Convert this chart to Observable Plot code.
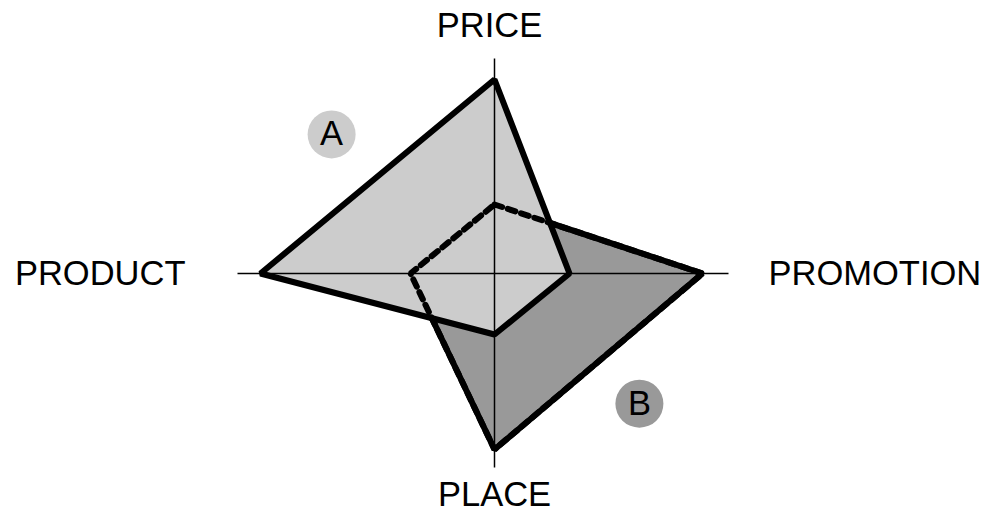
<!DOCTYPE html>
<html>
<head>
<meta charset="utf-8">
<script src="https://cdn.jsdelivr.net/npm/d3@7"></script>
<script src="https://cdn.jsdelivr.net/npm/@observablehq/plot@0.6"></script>
<style>
  html, body { margin: 0; padding: 0; background: #fff; }
  #chart svg { display: block; }
</style>
</head>
<body>
<div id="chart"></div>
<script>
// Radar axes (clockwise from top)
const categories = ["PRICE", "PROMOTION", "PLACE", "PRODUCT"];
const axisMax = [10.75, 11.7, 9.7, 12.85];
// Series values per axis
const seriesA = [9.7, 3.75, 3.05, 11.7];
const seriesB = [3.45, 10.4, 8.8, 4.2];
// Series badges: name, angle position (axis index, fractional) and radius
const seriesNames = ["A", "B"];
const badgeAngle = [3.45, 1.466];
const badgeRadius = [10.71, 9.74];

const toXY = (i, v) => {
  const a = i * Math.PI / 2;
  return {x: v * Math.sin(a), y: v * Math.cos(a)};
};
const poly = (vals) => vals.map((v, i) => ({cat: categories[i], ...toXY(i, v)}));
const polyA = poly(seriesA);
const polyB = poly(seriesB);
const axes = axisMax.map((v, i) => ({cat: categories[i], ...toXY(i, v)}));
const badges = seriesNames.map((n, k) => ({name: n, ...toXY(badgeAngle[k], badgeRadius[k])}));

const labelStyle = {
  PRICE: {dx: -5, dy: -33, anchor: "middle"},
  PROMOTION: {dx: 40, dy: 0, anchor: "start"},
  PLACE: {dx: 0, dy: 27, anchor: "middle"},
  PRODUCT: {dx: -52, dy: 0, anchor: "end"}
};
const font = "'Liberation Sans', Arial, Helvetica, sans-serif";
const unit = 20;
const cx = 494, cy = 273, W = 987, H = 508;

const labelMarks = axes.map(d => Plot.text([d], {
  x: "x", y: "y", text: "cat",
  dx: labelStyle[d.cat].dx, dy: labelStyle[d.cat].dy,
  textAnchor: labelStyle[d.cat].anchor, lineAnchor: "middle",
  fontSize: 34.5, fontFamily: font, fill: "#000"
}));

const chart = Plot.plot({
  width: W, height: H,
  margin: 0,
  x: {type: "linear", domain: [-cx / unit, (W - cx) / unit], range: [0, W], axis: null},
  y: {type: "linear", domain: [-(H - cy) / unit, cy / unit], range: [H, 0], axis: null},
  style: {background: "#fff", fontFamily: font},
  marks: [
    Plot.line(polyB, {x: "x", y: "y", curve: "linear-closed", fill: "#999999", stroke: "#000", strokeWidth: 6, strokeLinejoin: "miter"}),
    Plot.line(polyA, {x: "x", y: "y", curve: "linear-closed", fill: "#cccccc", stroke: "none"}),
    Plot.link(axes, {x1: 0, y1: 0, x2: "x", y2: "y", stroke: "#000", strokeWidth: 1.5}),
    Plot.line(polyA, {x: "x", y: "y", curve: "linear-closed", fill: "none", stroke: "#000", strokeWidth: 6, strokeLinejoin: "miter"}),
    Plot.line(polyB, {x: "x", y: "y", curve: "linear-closed", fill: "none", stroke: "#000", strokeWidth: 6, strokeDasharray: "8,6", strokeLinejoin: "miter"}),
    Plot.dot(badges, {x: "x", y: "y", r: 24, fill: (d) => d.name === "A" ? "#cccccc" : "#999999", stroke: "none"}),
    Plot.text(badges, {x: "x", y: "y", text: "name", fontSize: 34.5, fontFamily: font, fill: "#000", lineAnchor: "middle"}),
    ...labelMarks
  ]
});
document.getElementById("chart").appendChild(chart);
</script>
</body>
</html>
